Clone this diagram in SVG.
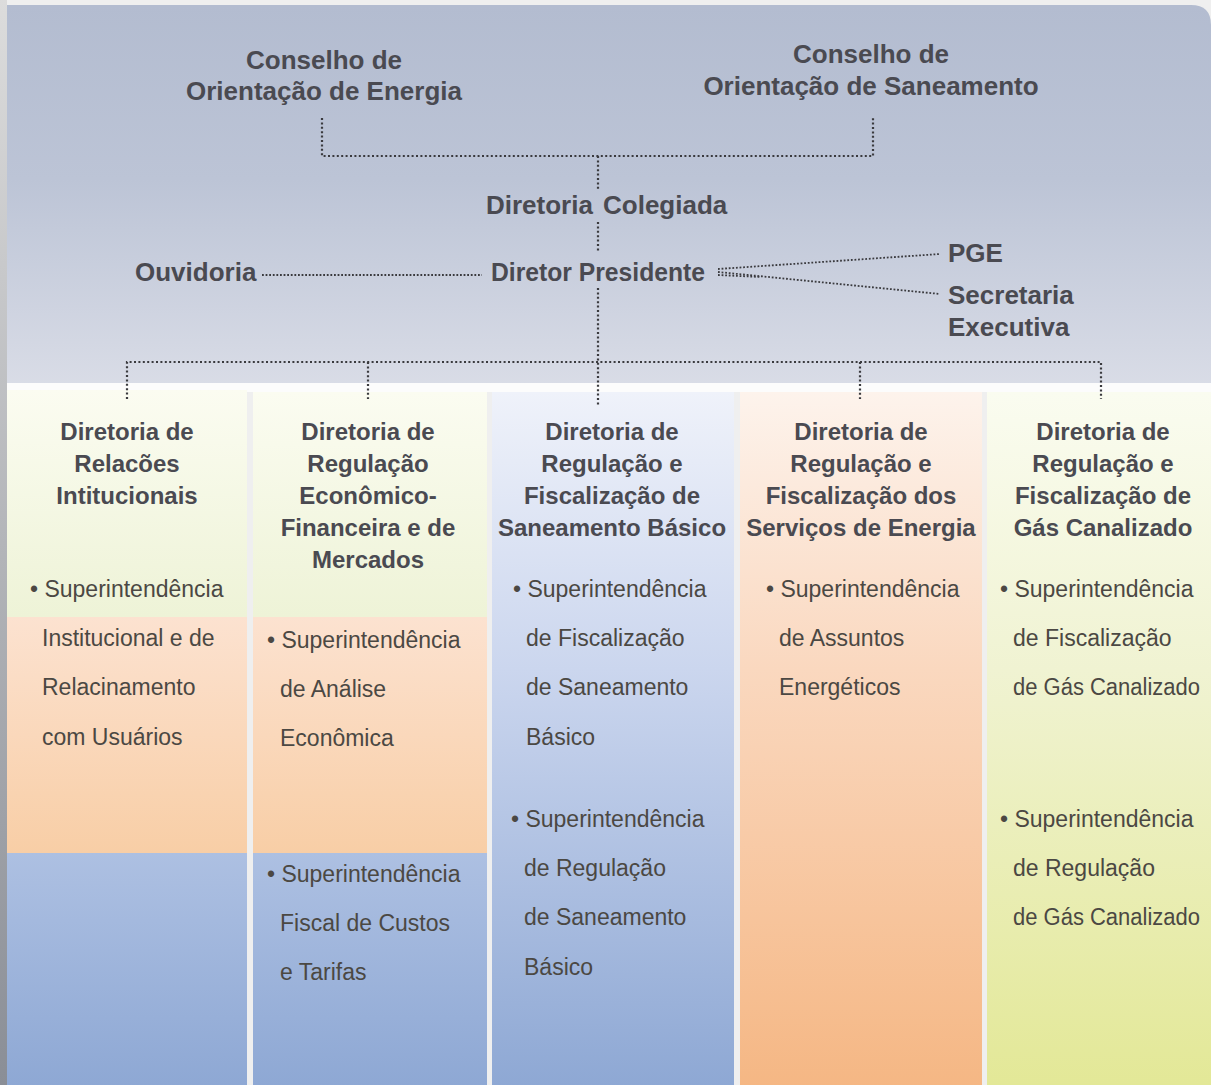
<svg xmlns="http://www.w3.org/2000/svg" width="1211" height="1085" viewBox="0 0 1211 1085">
<defs>
<linearGradient id="gOuterL" x1="0" y1="0" x2="0" y2="1"><stop offset="0" stop-color="#dcdcdc"/><stop offset="1" stop-color="#8a8e96"/></linearGradient>
<linearGradient id="gTop" x1="0" y1="0" x2="0" y2="1"><stop offset="0" stop-color="#b3bcd0"/><stop offset="0.45" stop-color="#bcc4d6"/><stop offset="1" stop-color="#dadde7"/></linearGradient>
<linearGradient id="gGreenS" x1="0" y1="0" x2="0" y2="1"><stop offset="0" stop-color="#fbfcf1"/><stop offset="1" stop-color="#eef3d7"/></linearGradient>
<linearGradient id="gPeachS" x1="0" y1="0" x2="0" y2="1"><stop offset="0" stop-color="#fce2d0"/><stop offset="1" stop-color="#f8cea6"/></linearGradient>
<linearGradient id="gBlueS" x1="0" y1="0" x2="0" y2="1"><stop offset="0" stop-color="#adc0e2"/><stop offset="1" stop-color="#8ea8d4"/></linearGradient>
<linearGradient id="gBlue" x1="0" y1="0" x2="0" y2="1"><stop offset="0" stop-color="#eff2fa"/><stop offset="0.4" stop-color="#cbd6ee"/><stop offset="1" stop-color="#8ea8d4"/></linearGradient>
<linearGradient id="gPeach" x1="0" y1="0" x2="0" y2="1"><stop offset="0" stop-color="#fdf3ec"/><stop offset="0.4" stop-color="#fad8bf"/><stop offset="1" stop-color="#f5b784"/></linearGradient>
<linearGradient id="gGreen" x1="0" y1="0" x2="0" y2="1"><stop offset="0" stop-color="#fafcf0"/><stop offset="0.4" stop-color="#f0f3d2"/><stop offset="1" stop-color="#e3e897"/></linearGradient>
</defs>
<style>
.h{font-family:"Liberation Sans",Arial,sans-serif;font-weight:bold;fill:#4a4a51;}
.top{font-size:26px;}
.mid{font-size:26px;}
.col{font-size:24px;text-anchor:middle;}
.b{font-family:"Liberation Sans",Arial,sans-serif;font-size:23px;fill:#4b4843;}
.dot{fill:none;stroke:#3a3a3e;stroke-width:2.2;stroke-dasharray:2 2.4;}
.fine{fill:none;stroke:#3a3a3e;stroke-width:1.8;stroke-dasharray:1.8 1.8;}
</style>
<rect x="0" y="0" width="1211" height="1085" fill="#efefef"/>
<rect x="0" y="0" width="7" height="1085" fill="url(#gOuterL)"/>
<path d="M7,5 H1191 Q1211,5 1211,25 V392 H7 Z" fill="url(#gTop)"/>
<rect x="7" y="383" width="1204" height="9" fill="#fcfcfc"/>

<g id="col1">
<rect x="7" y="390" width="240" height="227" fill="url(#gGreenS)"/>
<rect x="7" y="617" width="240" height="236" fill="url(#gPeachS)"/>
<rect x="7" y="853" width="240" height="232" fill="url(#gBlueS)"/>
<text class="h col" x="127"><tspan x="127" y="440">Diretoria de</tspan><tspan x="127" y="472">Relacões</tspan><tspan x="127" y="504">Intitucionais</tspan></text>
<text class="b"><tspan x="30" y="597">• Superintendência</tspan><tspan x="42" y="646">Institucional e de</tspan><tspan x="42" y="695">Relacinamento</tspan><tspan x="42" y="745">com Usuários</tspan></text>
</g>
<g id="col2">
<rect x="253" y="392" width="234" height="225" fill="url(#gGreenS)"/>
<rect x="253" y="617" width="234" height="236" fill="url(#gPeachS)"/>
<rect x="253" y="853" width="234" height="232" fill="url(#gBlueS)"/>
<text class="h col"><tspan x="368" y="440">Diretoria de</tspan><tspan x="368" y="472">Regulação</tspan><tspan x="368" y="504">Econômico-</tspan><tspan x="368" y="536">Financeira e de</tspan><tspan x="368" y="568">Mercados</tspan></text>
<text class="b"><tspan x="267" y="648">• Superintendência</tspan><tspan x="280" y="697">de Análise</tspan><tspan x="280" y="746">Econômica</tspan></text>
<text class="b"><tspan x="267" y="882">• Superintendência</tspan><tspan x="280" y="931">Fiscal de Custos</tspan><tspan x="280" y="980">e Tarifas</tspan></text>
</g>
<g id="col3">
<rect x="492" y="392" width="242" height="693" fill="url(#gBlue)"/>
<text class="h col"><tspan x="612" y="440">Diretoria de</tspan><tspan x="612" y="472">Regulação e</tspan><tspan x="612" y="504">Fiscalização de</tspan><tspan x="612" y="536">Saneamento Básico</tspan></text>
<text class="b"><tspan x="513" y="597">• Superintendência</tspan><tspan x="526" y="646">de Fiscalização</tspan><tspan x="526" y="695">de Saneamento</tspan><tspan x="526" y="745">Básico</tspan></text>
<text class="b"><tspan x="511" y="827">• Superintendência</tspan><tspan x="524" y="876">de Regulação</tspan><tspan x="524" y="925">de Saneamento</tspan><tspan x="524" y="975">Básico</tspan></text>
</g>
<g id="col4">
<rect x="740" y="392" width="242" height="693" fill="url(#gPeach)"/>
<text class="h col"><tspan x="861" y="440">Diretoria de</tspan><tspan x="861" y="472">Regulação e</tspan><tspan x="861" y="504">Fiscalização dos</tspan><tspan x="861" y="536">Serviços de Energia</tspan></text>
<text class="b"><tspan x="766" y="597">• Superintendência</tspan><tspan x="779" y="646">de Assuntos</tspan><tspan x="779" y="695">Energéticos</tspan></text>
</g>
<g id="col5">
<rect x="987" y="392" width="224" height="693" fill="url(#gGreen)"/>
<text class="h col"><tspan x="1103" y="440">Diretoria de</tspan><tspan x="1103" y="472">Regulação e</tspan><tspan x="1103" y="504">Fiscalização de</tspan><tspan x="1103" y="536">Gás Canalizado</tspan></text>
<text class="b"><tspan x="1000" y="597">• Superintendência</tspan><tspan x="1013" y="646">de Fiscalização</tspan></text>
<text class="b" x="1013" y="695" textLength="187" lengthAdjust="spacingAndGlyphs">de Gás Canalizado</text>
<text class="b"><tspan x="1000" y="827">• Superintendência</tspan><tspan x="1013" y="876">de Regulação</tspan></text>
<text class="b" x="1013" y="925" textLength="187" lengthAdjust="spacingAndGlyphs">de Gás Canalizado</text>
</g>

<g id="connectors">
<path class="dot" d="M322,118 V156 H873 V118"/>
<path class="dot" d="M598,156 V190"/>
<path class="dot" d="M598,222 V252"/>
<path class="dot" d="M598,288 V405"/>
<path class="dot" d="M127,399 V362 H1101 V399"/>
<path class="dot" d="M368,362 V399"/>
<path class="dot" d="M860,362 V399"/>
<path class="fine" d="M262,275 H482"/>
<path class="fine" d="M718,269 L940,254"/>
<path class="fine" d="M718,272 L940,294"/>
<path class="fine" d="M718,275 L760,277"/>
</g>

<g id="conselho-energia"><text class="h top" text-anchor="middle"><tspan x="324" y="69">Conselho de</tspan><tspan x="324" y="100">Orientação de Energia</tspan></text></g>
<g id="conselho-saneamento"><text class="h top" text-anchor="middle"><tspan x="871" y="63">Conselho de</tspan><tspan x="871" y="95">Orientação de Saneamento</tspan></text></g>
<g id="diretoria-colegiada"><text class="h mid"><tspan x="486" y="214">Diretoria</tspan><tspan x="603" y="214">Colegiada</tspan></text></g>
<g id="ouvidoria"><text class="h mid" x="135" y="281">Ouvidoria</text></g>
<g id="diretor-presidente"><text class="h mid" x="491" y="281" textLength="214" lengthAdjust="spacingAndGlyphs">Diretor Presidente</text></g>
<g id="pge"><text class="h mid" x="948" y="262">PGE</text></g>
<g id="secretaria"><text class="h mid"><tspan x="948" y="304">Secretaria</tspan><tspan x="948" y="336">Executiva</tspan></text></g>
</svg>
